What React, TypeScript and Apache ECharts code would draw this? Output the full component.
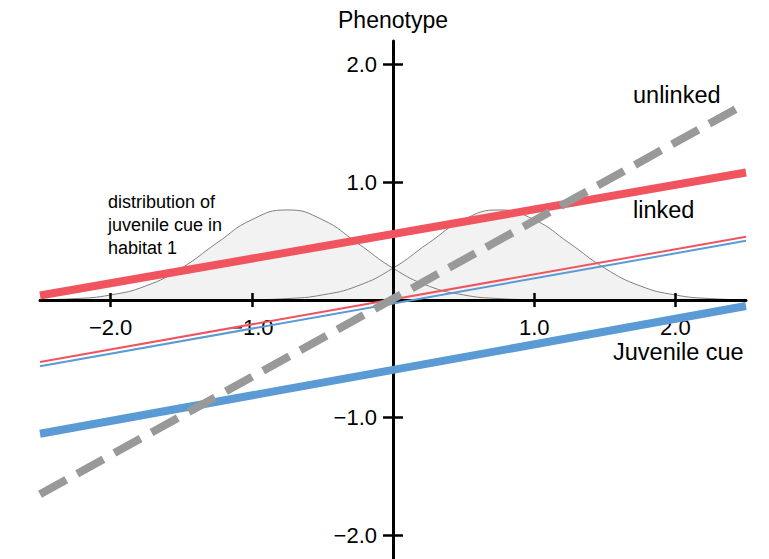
import React, { useEffect, useRef } from "react";
import * as echarts from "echarts";

// Juvenile cue grid for the two habitat distributions
const cueX = [-2.7, -2.5, -2.25, -2, -1.75, -1.5, -1.25, -1, -0.75, -0.5, -0.25, 0, 0.25, 0.5, 0.75, 1, 1.25, 1.5, 1.75, 2, 2.25, 2.5, 2.75];
const habitat1Density = [0.001, 0.003, 0.012, 0.043, 0.12, 0.27, 0.482, 0.682, 0.765, 0.682, 0.482, 0.27, 0.12, 0.043, 0.012, 0.003, 0.001, 0, 0, 0, 0, 0, 0];
const habitat2Density = [0, 0, 0, 0, 0, 0, 0.001, 0.003, 0.012, 0.043, 0.12, 0.27, 0.482, 0.682, 0.765, 0.682, 0.482, 0.27, 0.12, 0.043, 0.012, 0.003, 0.001];

// Reaction norms: phenotype at the two ends of the cue range
const lineX = [-2.5, 2.5];
const unlinkedY = [-1.65, 1.67];
const linkedRedThickY = [0.038, 1.083];
const linkedBlueThickY = [-1.136, -0.051];
const thinRedY = [-0.526, 0.537];
const thinBlueY = [-0.563, 0.503];

const xTicks = [-2, -1, 1, 2];
const yTicks = [-2, -1, 1, 2];

const X_MIN = -2.5, X_MAX = 2.5, Y_MIN = -2.2, Y_MAX = 2.2;

const FONT = "'Liberation Sans', Arial, Helvetica, sans-serif";

const zip = (xs: number[], ys: number[]) => xs.map((x, i) => [x, ys[i]]);
const fmt = (v: number) => (v < 0 ? "\u2212" + Math.abs(v).toFixed(1) : v.toFixed(1));

export default function App() {
  const ref = useRef<HTMLDivElement>(null);
  useEffect(() => {
    if (!ref.current) return;
    const chart = echarts.init(ref.current, undefined, { renderer: "svg" });
    const baseX = {
      type: "value" as const,
      min: X_MIN,
      max: X_MAX,
      splitLine: { show: false },
      axisLabel: { show: false },
      z: 5,
    };
    const baseY = {
      type: "value" as const,
      min: Y_MIN,
      max: Y_MAX,
      splitLine: { show: false },
      axisLabel: { show: false },
      z: 5,
    };
    const tickStyle = { color: "#000", width: 2.5 };
    const densFill = (d: number[]) => ({
      type: "line",
      data: zip(cueX, d),
      smooth: true,
      symbol: "none",
      clip: false,
      silent: true,
      z: 1,
      lineStyle: { width: 0, opacity: 0 },
      areaStyle: { color: "#F2F2F2", opacity: 1 },
    });
    const densLine = (d: number[]) => ({
      type: "line",
      data: zip(cueX, d),
      smooth: true,
      symbol: "none",
      clip: false,
      silent: true,
      z: 2,
      lineStyle: { width: 1, color: "#808080" },
    });
    const norm = (ys: number[], color: string, width: number, dash?: number[]) => ({
      type: "line",
      data: zip(lineX, ys),
      symbol: "none",
      silent: true,
      z: 10,
      lineStyle: { width, color, type: dash ? dash : "solid", cap: "butt" },
    });
    const tickLabels = (data: number[][], position: string, value: (d: number[]) => number) => ({
      type: "scatter",
      data,
      symbol: "circle",
      symbolSize: 1,
      silent: true,
      z: 5,
      itemStyle: { color: "rgba(0,0,0,0)" },
      label: {
        show: true,
        position,
        distance: 15.5,
        formatter: (p: any) => fmt(value(p.value)),
        fontSize: 22,
        fontFamily: FONT,
        color: "#000",
        opacity: 1,
      },
    });
    chart.setOption({
      animation: false,
      grid: { left: 40, right: 23, top: 41, bottom: 0, containLabel: false, outerBoundsMode: "none" },
      xAxis: [
        {
          ...baseX,
          position: "bottom",
          axisLine: { show: true, onZero: true, lineStyle: { color: "#000", width: 3 } },
          axisTick: { show: true, customValues: xTicks, length: 7, lineStyle: tickStyle },
        },
        {
          ...baseX,
          position: "top",
          axisLine: { show: false, onZero: true },
          axisTick: { show: true, customValues: xTicks, length: 7, lineStyle: tickStyle },
        },
      ],
      yAxis: [
        {
          ...baseY,
          position: "left",
          axisLine: { show: true, onZero: true, lineStyle: { color: "#000", width: 3 } },
          axisTick: { show: true, customValues: yTicks, length: 10, lineStyle: tickStyle },
        },
        {
          ...baseY,
          position: "right",
          axisLine: { show: false, onZero: true },
          axisTick: { show: true, customValues: yTicks, length: 10, lineStyle: tickStyle },
        },
      ],
      series: [
        densFill(habitat1Density),
        densFill(habitat2Density),
        densLine(habitat1Density),
        densLine(habitat2Density),
        tickLabels(xTicks.map((v) => [v, 0]), "bottom", (d) => d[0]),
        tickLabels(yTicks.map((v) => [0, v]), "left", (d) => d[1]),
        norm(thinRedY, "#F0555F", 2),
        norm(thinBlueY, "#5A9BD5", 2),
        norm(linkedRedThickY, "#F0555F", 8),
        norm(linkedBlueThickY, "#5A9BD5", 8),
        norm(unlinkedY, "#999999", 8, [30, 12.5]),
      ],
      graphic: [
        {
          type: "text",
          x: 393,
          y: 20,
          z: 20,
          style: { text: "Phenotype", fill: "#000", font: `23px ${FONT}`, textAlign: "center", textVerticalAlign: "middle" },
        },
        {
          type: "text",
          x: 633,
          y: 95,
          z: 20,
          style: { text: "unlinked", fill: "#000", font: `23.5px ${FONT}`, textAlign: "left", textVerticalAlign: "middle" },
        },
        {
          type: "text",
          x: 633,
          y: 210,
          z: 20,
          style: { text: "linked", fill: "#000", font: `23.5px ${FONT}`, textAlign: "left", textVerticalAlign: "middle" },
        },
        {
          type: "text",
          x: 613,
          y: 352,
          z: 20,
          style: { text: "Juvenile cue", fill: "#000", font: `23.5px ${FONT}`, textAlign: "left", textVerticalAlign: "middle" },
        },
        {
          type: "text",
          x: 108,
          y: 190,
          z: 20,
          style: {
            text: "distribution of\njuvenile cue in\nhabitat 1",
            fill: "#000",
            font: `18px ${FONT}`,
            lineHeight: 23.3,
            textAlign: "left",
            textVerticalAlign: "top",
          },
        },
      ],
    });
    return () => chart.dispose();
  }, []);
  return (
    <div
      ref={ref}
      style={{ position: "fixed", left: 0, top: 0, width: 769, height: 559, background: "#fff" }}
    />
  );
}
